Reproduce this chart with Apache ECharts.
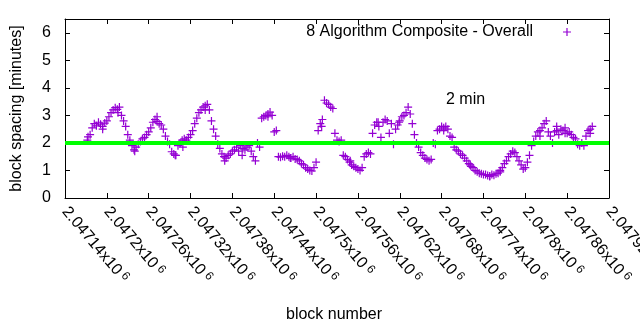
<!DOCTYPE html>
<html>
<head>
<meta charset="utf-8">
<script src="https://cdn.jsdelivr.net/npm/echarts@6/dist/echarts.min.js"></script>
<style>html,body{margin:0;padding:0;background:#fff}#c{width:640px;height:330px}</style>
</head>
<body>
<div id="c"></div>
<script>
// ---- data ----
var seriesName = '8 Algorithm Composite - Overall';
var firstBlock = 2047173;      // block number of first point
var blockStep = 3;             // blocks between listed points
var spacing = [
  2.22, 2.3, 2.55, 2.7, 2.62, 2.75, 2.68, 2.6, 2.72, 2.8,
  2.95, 3.1, 3.2, 3.28, 3.22, 3.3, 3.0, 2.8, 2.6, 2.3,
  2.1, 1.9, 1.75, 1.85, 1.95, 2.05, 2.15, 2.2, 2.3, 2.4,
  2.55, 2.75, 2.85, 2.78, 2.7, 2.65, 2.5, 2.25, 2.05, 1.95,
  1.68, 1.6, 1.55, 1.9, 2.0, 2.1, 2.15, 2.1, 2.2, 2.3,
  2.45, 2.7, 2.9, 3.1, 3.2, 3.3, 3.35, 3.4, 3.2, 2.8,
  2.5, 2.25, 1.95, 1.8, 1.6, 1.5, 1.45, 1.55, 1.6, 1.7,
  1.75, 1.85, 1.7, 1.9, 1.8, 1.75, 1.85, 1.9, 1.7, 1.5,
  1.35, 2.0, 1.85, 2.9, 2.95, 3.0, 3.05, 3.12, 3.0, 2.4,
  2.45, 1.5, 1.48, 1.52, 1.5, 1.55, 1.5, 1.45, 1.5, 1.42,
  1.4, 1.35, 1.25, 1.2, 1.1, 1.05, 1.0, 0.98, 1.1, 1.3,
  2.45, 2.7, 2.85, 3.55, 3.45, 3.4, 3.3, 3.25, 2.35, 2.1,
  2.05, 2.1, 1.55, 1.5, 1.4, 1.3, 1.2, 1.15, 1.1, 1.05,
  1.0, 1.1, 1.5, 1.6, 1.65, 1.6, 2.35, 2.65, 2.75, 2.6,
  2.2, 2.75, 2.85, 2.8, 2.35, 2.7, 1.95, 2.5, 2.65, 2.8,
  2.95, 3.0, 3.1, 3.3, 3.05, 2.7, 2.3, 2.0, 1.85, 1.65,
  1.55, 1.45, 1.4, 1.35, 1.4, 2.0, 1.95, 2.45, 2.5, 2.6,
  2.55, 2.6, 2.5, 2.25, 2.2, 1.85, 1.75, 1.7, 1.6, 1.55,
  1.45, 1.35, 1.25, 1.15, 1.1, 1.0, 0.95, 0.9, 0.88, 0.85,
  0.85, 0.82, 0.8, 0.85, 0.83, 0.88, 0.9, 1.0, 1.1, 1.25,
  1.35, 1.5, 1.6, 1.7, 1.65, 1.5, 1.35, 1.2, 1.05, 1.1,
  1.3, 1.55, 1.9, 2.05, 2.25, 2.4, 2.45, 2.55, 2.7, 2.8,
  2.4, 2.25, 2.0, 2.4, 2.45, 2.3, 2.5, 2.45, 2.55, 2.35,
  2.4, 2.3, 2.2, 2.15, 1.95, 1.9, 2.0, 1.9, 2.25, 2.45,
  2.5, 2.6
];
// scattered points lying off the main band
var extraBlocks = [
  2047172, 2047194, 2047216, 2047240, 2047272, 2047298, 2047309, 2047341,
  2047369, 2047394, 2047431, 2047463, 2047508, 2047549, 2047589, 2047619,
  2047683, 2047721, 2047749, 2047764, 2047821, 2047845, 2047857, 2047893
];
var extraSpacing = [
  2.1, 2.5, 3.1, 1.7, 2.95, 1.55, 1.85, 3.2,
  1.35, 1.55, 2.95, 1.45, 2.6, 1.35, 2.75, 2.75,
  2.45, 1.2, 0.78, 0.95, 2.25, 2.6, 2.35, 2.35
];
var xMin = 2047140, xMax = 2047920, xStep = 60;   // x tick labels 2.04714x10^6 ... 2.04792x10^6
var yMin = 0, yMax = 6.5, yStep = 1;              // y tick labels 0..6
var targetValue = 2;                              // 2 min reference line
var targetLabel = '2 min';

// ---- build ----
var points = spacing.map(function (v, i) { return [firstBlock + i * blockStep, v]; });
extraBlocks.forEach(function (b, i) { points.push([b, extraSpacing[i]]); });
var plusPath = 'path://M3.4,0h1.2v3.4h3.4v1.2h-3.4v3.4h-1.2v-3.4h-3.4v-1.2h3.4z';
var FONT = 'Liberation Sans';
var BLACK = '#000';

var chart = echarts.init(document.getElementById('c'), null, {renderer: 'canvas'});
var tickCommon = {show: true, inside: true, length: 5, lineStyle: {color: BLACK, width: 1}};
var lineCommon = {show: true, onZero: false, lineStyle: {color: BLACK, width: 1}};

chart.setOption({
  animation: false,
  backgroundColor: '#fff',
  textStyle: {fontFamily: FONT},
  grid: {left: 65, right: 31, top: 19, bottom: 132, containLabel: false, outerBoundsMode: 'none'},
  legend: {
    data: [seriesName],
    right: 69, top: 24, padding: 0,
    align: 'right',
    itemWidth: 8, itemHeight: 8,
    icon: plusPath,
    itemStyle: {color: '#9400d3'},
    textStyle: {fontFamily: FONT, fontSize: 16, color: BLACK, padding: [0, 25, 0, 0]}
  },
  xAxis: [{
    type: 'value', min: xMin, max: xMax, interval: xStep, position: 'bottom',
    axisLine: lineCommon, axisTick: tickCommon, splitLine: {show: false},
    name: 'block number', nameLocation: 'middle', nameGap: 109,
    nameTextStyle: {fontFamily: FONT, fontSize: 16, color: BLACK, padding: [0, 6, 0, 0]},
    axisLabel: {
      rotate: -50, margin: 11, showMaxLabel: true, showMinLabel: true, hideOverlap: false,
      color: BLACK, fontFamily: FONT, fontSize: 16,
      formatter: function (v) {
        var s = parseFloat((v / 1e6).toFixed(6)).toString();
        return '{a|' + s + 'x10}{s| 6}';
      },
      rich: {
        a: {fontFamily: FONT, fontSize: 16, color: BLACK, lineHeight: 18},
        s: {fontFamily: FONT, fontSize: 12, color: BLACK, verticalAlign: 'top', lineHeight: 18}
      }
    }
  }, {
    type: 'value', min: xMin, max: xMax, interval: xStep, position: 'top',
    axisLine: lineCommon, axisTick: tickCommon, axisLabel: {show: false}, splitLine: {show: false}
  }],
  yAxis: [{
    type: 'value', min: yMin, max: yMax, interval: yStep, position: 'left',
    axisLine: lineCommon, axisTick: tickCommon, splitLine: {show: false},
    name: 'block spacing [minutes]', nameLocation: 'middle', nameGap: 40,
    nameTextStyle: {fontFamily: FONT, fontSize: 16, color: BLACK},
    axisLabel: {
      margin: 14, showMaxLabel: false, color: BLACK, fontFamily: FONT, fontSize: 16,
      formatter: function (v) { return String(v); }
    }
  }, {
    type: 'value', min: yMin, max: yMax, interval: yStep, position: 'right',
    axisLine: lineCommon, axisTick: tickCommon, axisLabel: {show: false}, splitLine: {show: false}
  }],
  series: [{
    name: seriesName,
    type: 'scatter',
    xAxisIndex: 0, yAxisIndex: 0,
    symbol: plusPath,
    symbolSize: 8,
    itemStyle: {color: '#9400d3', opacity: 1},
    data: points,
    z: 2
  }, {
    name: targetLabel,
    type: 'line',
    xAxisIndex: 0, yAxisIndex: 0,
    data: [[xMin, targetValue], [xMax, targetValue]],
    showSymbol: false, symbol: 'none',
    lineStyle: {color: '#00ff00', width: 4},
    z: 3, silent: true
  }],
  graphic: [{
    type: 'text', left: 446, top: 92, silent: true,
    style: {text: targetLabel, fontFamily: FONT, fontSize: 16, fill: BLACK}
  }]
});
</script>
</body>
</html>
